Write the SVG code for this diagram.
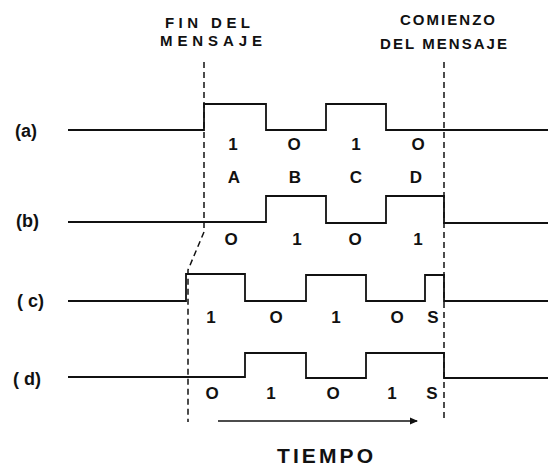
<svg xmlns="http://www.w3.org/2000/svg" width="552" height="468" viewBox="0 0 552 468">
  <defs>
    <style>
      .wave { fill: none; stroke: #111; stroke-width: 1.8; stroke-linejoin: miter; }
      .dash { fill: none; stroke: #111; stroke-width: 1.5; stroke-dasharray: 6 4; }
      .hdr { font-family: "Liberation Sans", Arial, sans-serif; font-size: 15px; font-weight: bold; fill: #111; }
      .lbl { font-family: "Liberation Sans", Arial, sans-serif; font-size: 18px; font-weight: bold; fill: #111; }
      .bit { font-family: "Liberation Sans", Arial, sans-serif; font-size: 17px; font-weight: bold; fill: #111; text-anchor: middle; }
      .title { font-family: "Liberation Sans", Arial, sans-serif; font-size: 21px; font-weight: bold; fill: #111; }
    </style>
    <marker id="arrowhead" markerWidth="8" markerHeight="8" refX="7" refY="4" orient="auto" markerUnits="userSpaceOnUse">
      <path d="M0,0.5 L8,4 L0,7.5 Z" fill="#111"/>
    </marker>
  </defs>
  <rect width="552" height="468" fill="#ffffff"/>

  <g id="headers">
    <text class="hdr" x="165" y="28" textLength="85" lengthAdjust="spacing">FIN DEL</text>
    <text class="hdr" x="160" y="46" textLength="102" lengthAdjust="spacing">MENSAJE</text>
    <text class="hdr" x="400" y="25" textLength="95" lengthAdjust="spacing">COMIENZO</text>
    <text class="hdr" x="380" y="49" textLength="127" lengthAdjust="spacing">DEL MENSAJE</text>
  </g>

  <g id="markers">
    <path class="dash" d="M204,62 V232 L188,270 V422"/>
    <path class="dash" d="M444,62 V422"/>
  </g>

  <g id="wave-a">
    <text class="lbl" x="15" y="137">(a)</text>
    <path class="wave" d="M68,130 H204 V104 H266 V130 H326 V104 H386 V130 H548"/>
    <text class="bit" x="233" y="150">1</text>
    <text class="bit" x="294" y="150">O</text>
    <text class="bit" x="356" y="150">1</text>
    <text class="bit" x="418" y="150">O</text>
    <text class="bit" x="234" y="183">A</text>
    <text class="bit" x="295" y="183">B</text>
    <text class="bit" x="356" y="183">C</text>
    <text class="bit" x="416" y="183">D</text>
  </g>

  <g id="wave-b">
    <text class="lbl" x="16" y="227">(b)</text>
    <path class="wave" d="M68,222 H266 V196 H326 V223 H386 V196 H444 V223 H548"/>
    <text class="bit" x="231" y="245">O</text>
    <text class="bit" x="297" y="245">1</text>
    <text class="bit" x="355" y="245">O</text>
    <text class="bit" x="418" y="245">1</text>
  </g>

  <g id="wave-c">
    <text class="lbl" x="17" y="307">( c)</text>
    <path class="wave" d="M68,301 H186 V274 H245 V301 H306 V275 H366 V301 H425 V275 H444 V301 H548"/>
    <text class="bit" x="211" y="323">1</text>
    <text class="bit" x="276" y="323">O</text>
    <text class="bit" x="336" y="323">1</text>
    <text class="bit" x="397" y="323">O</text>
    <text class="bit" x="433" y="323">S</text>
  </g>

  <g id="wave-d">
    <text class="lbl" x="13" y="385">( d)</text>
    <path class="wave" d="M68,377 H245 V353 H306 V378 H366 V353 H444 V378 H548"/>
    <text class="bit" x="212" y="399">O</text>
    <text class="bit" x="271" y="399">1</text>
    <text class="bit" x="333" y="399">O</text>
    <text class="bit" x="392" y="399">1</text>
    <text class="bit" x="432" y="399">S</text>
  </g>

  <g id="connectors">
    <path d="M218,421 H417" stroke="#111" stroke-width="1.5" fill="none" marker-end="url(#arrowhead)"/>
  </g>

  <g id="time-label">
    <text class="title" x="277" y="463" textLength="96" lengthAdjust="spacing">TIEMPO</text>
  </g>
</svg>
